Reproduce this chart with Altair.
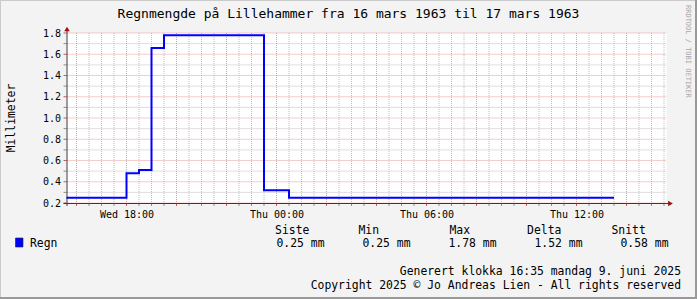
import json
import altair as alt
import pandas as pd

# ---------------- data ----------------
hours = [15.6, 18.0, 18.5, 19.0, 19.5, 23.5, 24.5, 37.5]      # hours since Wed 00:00
rain_mm = [0.25, 0.48, 0.51, 1.66, 1.78, 0.32, 0.25, 0.25]

x_tick_hours = [18, 24, 30, 36]
x_tick_labels = ["Wed 18:00", "Thu 00:00", "Thu 06:00", "Thu 12:00"]
y_ticks = [0.2, 0.4, 0.6, 0.8, 1.0, 1.2, 1.4, 1.6, 1.8]
y_minor = [0.3, 0.5, 0.7, 0.9, 1.1, 1.3, 1.5, 1.7]
x_major = [16, 18, 20, 22, 24, 26, 28, 30, 32, 34, 36, 38]
x_minor = [h for h in [16 + 0.5 * i for i in range(48)] if h not in x_major]

title_text = "Regnmengde på Lillehammer fra 16 mars 1963 til 17 mars 1963"
y_title = "Millimeter"
series_name = "Regn"
stat_names = ["Siste", "Min", "Max", "Delta", "Snitt"]
stat_values = [0.25, 0.25, 1.78, 1.52, 0.58]
footer_lines = ["Generert klokka 16:35 mandag 9. juni 2025",
                "Copyright 2025 © Jo Andreas Lien - All rights reserved"]
watermark = "RRDTOOL / TOBI OETIKER"

# ---------------- layout ----------------
W, H = 600, 170
LEFT, TOP = 66.5, 33
FONT = "DejaVu Sans Mono"
xs = alt.Scale(domain=[15.6, 39.6], nice=False, zero=False)
ys = alt.Scale(domain=[0.2, 1.8], nice=False, zero=False)

df = pd.DataFrame({"hour": hours, "mm": rain_mm})

label_expr = "{}[indexof({}, datum.value)]".format(json.dumps(x_tick_labels), json.dumps(x_tick_hours))

x_axis = alt.Axis(values=x_tick_hours, labelExpr=label_expr, grid=False, domain=False,
                  ticks=False, labelPadding=6, labelFont=FONT, labelFontSize=10,
                  labelColor="#000000", title=None, labelFlush=False)
y_axis = alt.Axis(values=y_ticks, format=".1f", grid=False, domain=False, ticks=False,
                  labelPadding=6, labelFont=FONT, labelFontSize=10, labelColor="#000000",
                  title=None, labelFlush=False)

GRID = "#BEBEBE"
GRID_TICK = "#8F8F8F"
MGRID = "#E89A9A"
MGRID_TICK = "#DE5050"
AXIS = "#3A3A3A"
ARROW = "#9B1010"


def vgrid(vals, color, tick_color):
    d = pd.DataFrame({"gx": vals})
    g = alt.Chart(d).mark_rule(color=color, strokeWidth=1, strokeDash=[1, 1]).encode(
        x=alt.X("gx:Q", scale=xs, axis=x_axis), y=alt.value(0), y2=alt.value(H))
    t = alt.Chart(d).mark_rule(color=tick_color, strokeWidth=1).encode(
        x=alt.X("gx:Q", scale=xs, axis=x_axis), y=alt.value(H), y2=alt.value(H + 3))
    return [g, t]


def hgrid(vals, color, tick_color):
    d = pd.DataFrame({"gy": vals})
    g = alt.Chart(d).mark_rule(color=color, strokeWidth=1, strokeDash=[1, 1]).encode(
        y=alt.Y("gy:Q", scale=ys, axis=y_axis), x=alt.value(0), x2=alt.value(W))
    t = alt.Chart(d).mark_rule(color=tick_color, strokeWidth=1).encode(
        y=alt.Y("gy:Q", scale=ys, axis=y_axis), x=alt.value(-3), x2=alt.value(0))
    return [g, t]


def txt(text, x, y, size=11.4, align="left", baseline="alphabetic", angle=0, color="#000000"):
    d = pd.DataFrame({"t": [text]})
    return alt.Chart(d).mark_text(font=FONT, fontSize=size, align=align, baseline=baseline,
                                  angle=angle, color=color).encode(
        text="t:N", x=alt.value(x), y=alt.value(y))


one = pd.DataFrame({"k": [0]})

line = alt.Chart(df).mark_line(interpolate="step-after", color="#0000FF", strokeWidth=2).encode(
    x=alt.X("hour:Q", scale=xs, axis=x_axis),
    y=alt.Y("mm:Q", scale=ys, axis=y_axis),
)

x_axis_line = alt.Chart(one).mark_rule(color=AXIS, strokeWidth=1).encode(
    x=alt.value(-3), x2=alt.value(W + 3), y=alt.value(H + 0.5))
y_axis_line = alt.Chart(one).mark_rule(color=AXIS, strokeWidth=1).encode(
    y=alt.value(H + 3), y2=alt.value(-3), x=alt.value(0.5))
x_arrow = alt.Chart(one).mark_point(shape="triangle-right", filled=True, size=30, color=ARROW, opacity=1).encode(
    x=alt.value(W + 4), y=alt.value(H + 0.5))
y_arrow = alt.Chart(one).mark_point(shape="triangle-up", filled=True, size=30, color=ARROW, opacity=1).encode(
    x=alt.value(0.5), y=alt.value(-4))

# legend / stats
header_left = [208.6, 292, 383, 460.6, 545]
value_right = [258, 344, 430, 516, 602]
texts = []
for name, x in zip(stat_names, header_left):
    texts.append(txt(name, x, 201))
for v, x in zip(stat_values, value_right):
    texts.append(txt(f"{v:.2f} mm", x, 214, align="right"))
texts.append(txt(series_name, -36.5, 214))
texts.append(txt(title_text, 282, -15, size=13, align="center"))
texts.append(txt(y_title, -55, 85, size=11.4, align="center", baseline="middle", angle=270))
texts.append(txt(footer_lines[0], 614.5, 241.5, align="right"))
texts.append(txt(footer_lines[1], 614.5, 255.5, align="right"))
texts.append(txt(watermark, 621, -28, size=7, align="left", baseline="middle", angle=90, color="#A8A8A8"))

legend_box = alt.Chart(one).mark_rect(fill="#0000FF", stroke="#222222", strokeWidth=0.6).encode(
    x=alt.value(-51), x2=alt.value(-43.5), y=alt.value(205), y2=alt.value(214))

# frame
fr = [
    alt.Chart(one).mark_rule(color="#CBCBCB", strokeWidth=1).encode(
        x=alt.value(-LEFT + 0.5), y=alt.value(-TOP), y2=alt.value(299 - TOP)),
    alt.Chart(one).mark_rule(color="#CBCBCB", strokeWidth=1).encode(
        y=alt.value(-TOP + 0.5), x=alt.value(-LEFT), x2=alt.value(697 - LEFT)),
    alt.Chart(one).mark_rule(color="#999999", strokeWidth=2).encode(
        x=alt.value(697 - LEFT - 1), y=alt.value(-TOP), y2=alt.value(299 - TOP)),
    alt.Chart(one).mark_rule(color="#999999", strokeWidth=2).encode(
        y=alt.value(299 - TOP - 1), x=alt.value(-LEFT), x2=alt.value(697 - LEFT)),
]

chart = alt.layer(
    *vgrid(x_minor, GRID, GRID_TICK),
    *hgrid(y_minor, GRID, GRID_TICK),
    *vgrid(x_major, MGRID, MGRID_TICK),
    *hgrid(y_ticks, MGRID, MGRID_TICK),
    x_axis_line, y_axis_line, x_arrow, y_arrow,
    line,
    legend_box,
    *texts,
    *fr,
).properties(
    width=W, height=H,
    autosize=alt.AutoSizeParams(type="none"),
    padding={"left": LEFT, "top": TOP, "right": 697 - W - LEFT, "bottom": 299 - H - TOP},
    background="#F3F3F3",
).configure_view(fill="#FFFFFF", stroke=None)

chart.save("out.html", embed_options={"renderer": "svg", "actions": False})
